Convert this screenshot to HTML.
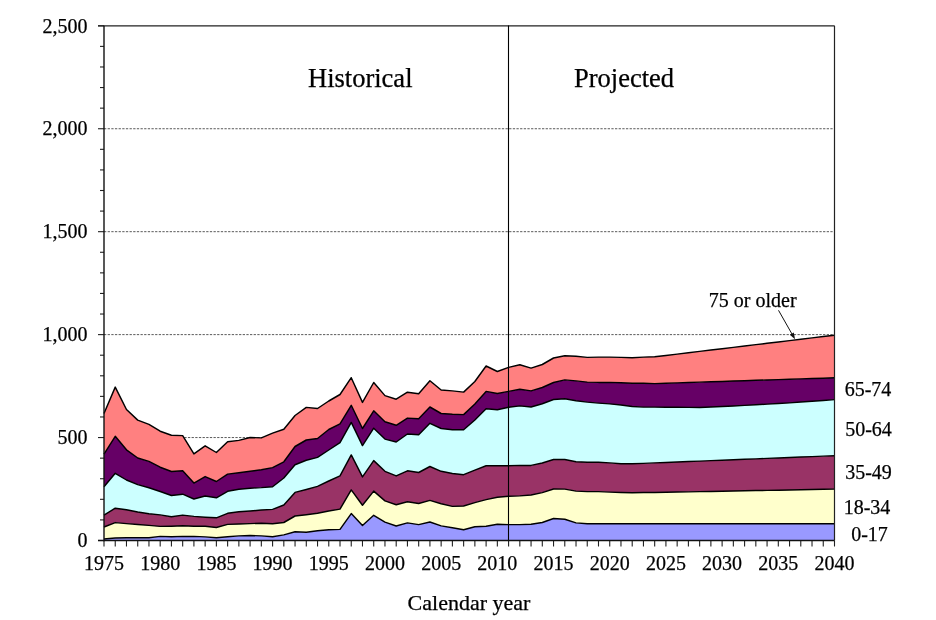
<!DOCTYPE html>
<html><head><meta charset="utf-8"><style>
html,body{margin:0;padding:0;background:#fff;}
body{width:936px;height:620px;overflow:hidden;}
svg{display:block;will-change:transform;}
text{font-family:"Liberation Serif",serif;fill:#000;stroke:#000;stroke-width:0.25px;}
</style></head><body>
<svg width="936" height="620" viewBox="0 0 936 620">
<rect width="936" height="620" fill="#fff"/>
<g stroke="#5a5a5a" stroke-width="1" stroke-dasharray="2.3 1.35">
<line x1="104" y1="437.56" x2="834.5" y2="437.56"/>
<line x1="104" y1="334.62" x2="834.5" y2="334.62"/>
<line x1="104" y1="231.68" x2="834.5" y2="231.68"/>
<line x1="104" y1="128.74" x2="834.5" y2="128.74"/>
</g>
<g stroke="none">
<polygon points="104,539 115.24,538 126.48,537.7 137.72,537.7 148.95,537.7 160.19,536.4 171.43,536.7 182.67,536.4 193.91,536.4 205.15,536.9 216.38,537.7 227.62,536.8 238.86,535.9 250.1,535.5 261.34,535.9 272.58,536.8 283.82,534.9 295.05,531.7 306.29,532.3 317.53,530.8 328.77,529.7 340.01,529.4 351.25,513.6 362.48,525.5 373.72,515.3 384.96,522.1 396.2,526 407.44,522.9 418.68,524.6 429.92,522 441.15,525.9 452.39,527.7 463.63,529.7 474.87,526.7 486.11,526.3 497.35,524.3 508.58,524.6 519.82,524.6 531.06,524.3 542.3,522.5 553.54,518.5 564.78,519.2 576.02,522.9 587.25,523.8 598.49,523.7 609.73,523.7 620.97,523.7 632.21,523.7 643.45,523.7 654.68,523.7 665.92,523.7 677.16,523.7 688.4,523.7 699.64,523.7 710.88,523.7 722.12,523.7 733.35,523.7 744.59,523.7 755.83,523.7 767.07,523.7 778.31,523.7 789.55,523.7 800.78,523.7 812.02,523.7 823.26,523.7 834.5,523.7 834.5,540.5 823.26,540.5 812.02,540.5 800.78,540.5 789.55,540.5 778.31,540.5 767.07,540.5 755.83,540.5 744.59,540.5 733.35,540.5 722.12,540.5 710.88,540.5 699.64,540.5 688.4,540.5 677.16,540.5 665.92,540.5 654.68,540.5 643.45,540.5 632.21,540.5 620.97,540.5 609.73,540.5 598.49,540.5 587.25,540.5 576.02,540.5 564.78,540.5 553.54,540.5 542.3,540.5 531.06,540.5 519.82,540.5 508.58,540.5 497.35,540.5 486.11,540.5 474.87,540.5 463.63,540.5 452.39,540.5 441.15,540.5 429.92,540.5 418.68,540.5 407.44,540.5 396.2,540.5 384.96,540.5 373.72,540.5 362.48,540.5 351.25,540.5 340.01,540.5 328.77,540.5 317.53,540.5 306.29,540.5 295.05,540.5 283.82,540.5 272.58,540.5 261.34,540.5 250.1,540.5 238.86,540.5 227.62,540.5 216.38,540.5 205.15,540.5 193.91,540.5 182.67,540.5 171.43,540.5 160.19,540.5 148.95,540.5 137.72,540.5 126.48,540.5 115.24,540.5 104,540.5" fill="#9999FF"/>
<polygon points="104,527 115.24,522.6 126.48,523.6 137.72,524.5 148.95,525.4 160.19,526.4 171.43,526.2 182.67,525.8 193.91,526.2 205.15,526.2 216.38,527.5 227.62,524.4 238.86,524 250.1,523.6 261.34,523.2 272.58,523.8 283.82,522.5 295.05,516 306.29,514.7 317.53,513.2 328.77,511 340.01,509.1 351.25,489.9 362.48,505.2 373.72,491.1 384.96,500.9 396.2,504.7 407.44,501.8 418.68,503.5 429.92,500.4 441.15,503.8 452.39,506.4 463.63,506 474.87,502.6 486.11,499.6 497.35,497.2 508.58,496.2 519.82,495.9 531.06,495 542.3,492.6 553.54,489 564.78,489.1 576.02,491.1 587.25,491.6 598.49,491.6 609.73,492.1 620.97,492.5 632.21,492.8 643.45,492.5 654.68,492.5 665.92,492.29 677.16,492.07 688.4,491.86 699.64,491.65 710.88,491.44 722.12,491.23 733.35,491.01 744.59,490.8 755.83,490.59 767.07,490.38 778.31,490.16 789.55,489.95 800.78,489.74 812.02,489.53 823.26,489.31 834.5,489.1 834.5,523.7 823.26,523.7 812.02,523.7 800.78,523.7 789.55,523.7 778.31,523.7 767.07,523.7 755.83,523.7 744.59,523.7 733.35,523.7 722.12,523.7 710.88,523.7 699.64,523.7 688.4,523.7 677.16,523.7 665.92,523.7 654.68,523.7 643.45,523.7 632.21,523.7 620.97,523.7 609.73,523.7 598.49,523.7 587.25,523.8 576.02,522.9 564.78,519.2 553.54,518.5 542.3,522.5 531.06,524.3 519.82,524.6 508.58,524.6 497.35,524.3 486.11,526.3 474.87,526.7 463.63,529.7 452.39,527.7 441.15,525.9 429.92,522 418.68,524.6 407.44,522.9 396.2,526 384.96,522.1 373.72,515.3 362.48,525.5 351.25,513.6 340.01,529.4 328.77,529.7 317.53,530.8 306.29,532.3 295.05,531.7 283.82,534.9 272.58,536.8 261.34,535.9 250.1,535.5 238.86,535.9 227.62,536.8 216.38,537.7 205.15,536.9 193.91,536.4 182.67,536.4 171.43,536.7 160.19,536.4 148.95,537.7 137.72,537.7 126.48,537.7 115.24,538 104,539" fill="#FFFFCC"/>
<polygon points="104,515.1 115.24,508.2 126.48,509.7 137.72,512 148.95,513.8 160.19,514.9 171.43,516.8 182.67,515.1 193.91,516.4 205.15,517.2 216.38,517.8 227.62,513.3 238.86,511.8 250.1,511 261.34,510 272.58,509.4 283.82,505 295.05,492.4 306.29,489.5 317.53,486.4 328.77,481 340.01,475.9 351.25,454.9 362.48,476.9 373.72,460.6 384.96,471.3 396.2,475.9 407.44,470.8 418.68,472.5 429.92,466.5 441.15,471.3 452.39,473.5 463.63,474.7 474.87,470.1 486.11,465.7 497.35,465.7 508.58,465.7 519.82,465.4 531.06,465.4 542.3,463 553.54,459.5 564.78,459.5 576.02,461.7 587.25,462.3 598.49,462.3 609.73,462.9 620.97,463.7 632.21,463.7 643.45,463.4 654.68,462.9 665.92,462.45 677.16,462 688.4,461.55 699.64,461.1 710.88,460.65 722.12,460.2 733.35,459.75 744.59,459.3 755.83,458.85 767.07,458.4 778.31,457.95 789.55,457.5 800.78,457.05 812.02,456.6 823.26,456.15 834.5,455.7 834.5,489.1 823.26,489.31 812.02,489.53 800.78,489.74 789.55,489.95 778.31,490.16 767.07,490.38 755.83,490.59 744.59,490.8 733.35,491.01 722.12,491.23 710.88,491.44 699.64,491.65 688.4,491.86 677.16,492.07 665.92,492.29 654.68,492.5 643.45,492.5 632.21,492.8 620.97,492.5 609.73,492.1 598.49,491.6 587.25,491.6 576.02,491.1 564.78,489.1 553.54,489 542.3,492.6 531.06,495 519.82,495.9 508.58,496.2 497.35,497.2 486.11,499.6 474.87,502.6 463.63,506 452.39,506.4 441.15,503.8 429.92,500.4 418.68,503.5 407.44,501.8 396.2,504.7 384.96,500.9 373.72,491.1 362.48,505.2 351.25,489.9 340.01,509.1 328.77,511 317.53,513.2 306.29,514.7 295.05,516 283.82,522.5 272.58,523.8 261.34,523.2 250.1,523.6 238.86,524 227.62,524.4 216.38,527.5 205.15,526.2 193.91,526.2 182.67,525.8 171.43,526.2 160.19,526.4 148.95,525.4 137.72,524.5 126.48,523.6 115.24,522.6 104,527" fill="#993366"/>
<polygon points="104,486.8 115.24,473.3 126.48,480 137.72,484.6 148.95,487.7 160.19,491.5 171.43,495.5 182.67,494.2 193.91,499 205.15,496 216.38,497.8 227.62,491.3 238.86,489.3 250.1,488.2 261.34,487.6 272.58,486.7 283.82,478 295.05,464.7 306.29,460.3 317.53,457.4 328.77,450 340.01,442.7 351.25,422.4 362.48,445.6 373.72,428.2 384.96,439.1 396.2,442 407.44,434 418.68,434.7 429.92,423.3 441.15,428.5 452.39,429.8 463.63,429.8 474.87,420 486.11,408.8 497.35,409.8 508.58,407.3 519.82,405.9 531.06,407 542.3,403.8 553.54,399.5 564.78,398.8 576.02,400.7 587.25,402.1 598.49,403.1 609.73,403.9 620.97,405 632.21,406.5 643.45,407.1 654.68,407.1 665.92,407.2 677.16,407.3 688.4,407.4 699.64,407.5 710.88,406.98 722.12,406.45 733.35,405.92 744.59,405.4 755.83,404.77 767.07,404.15 778.31,403.52 789.55,402.9 800.78,402.07 812.02,401.25 823.26,400.43 834.5,399.6 834.5,455.7 823.26,456.15 812.02,456.6 800.78,457.05 789.55,457.5 778.31,457.95 767.07,458.4 755.83,458.85 744.59,459.3 733.35,459.75 722.12,460.2 710.88,460.65 699.64,461.1 688.4,461.55 677.16,462 665.92,462.45 654.68,462.9 643.45,463.4 632.21,463.7 620.97,463.7 609.73,462.9 598.49,462.3 587.25,462.3 576.02,461.7 564.78,459.5 553.54,459.5 542.3,463 531.06,465.4 519.82,465.4 508.58,465.7 497.35,465.7 486.11,465.7 474.87,470.1 463.63,474.7 452.39,473.5 441.15,471.3 429.92,466.5 418.68,472.5 407.44,470.8 396.2,475.9 384.96,471.3 373.72,460.6 362.48,476.9 351.25,454.9 340.01,475.9 328.77,481 317.53,486.4 306.29,489.5 295.05,492.4 283.82,505 272.58,509.4 261.34,510 250.1,511 238.86,511.8 227.62,513.3 216.38,517.8 205.15,517.2 193.91,516.4 182.67,515.1 171.43,516.8 160.19,514.9 148.95,513.8 137.72,512 126.48,509.7 115.24,508.2 104,515.1" fill="#CCFFFF"/>
<polygon points="104,454.1 115.24,436.3 126.48,449.8 137.72,458 148.95,461.4 160.19,467.2 171.43,471.5 182.67,470.8 193.91,483.1 205.15,476.6 216.38,481.5 227.62,474.1 238.86,472.7 250.1,471.2 261.34,469.8 272.58,467.6 283.82,461.8 295.05,446.5 306.29,440 317.53,438.5 328.77,429.5 340.01,423.9 351.25,405.3 362.48,428.5 373.72,410.8 384.96,421.7 396.2,425.3 407.44,418.1 418.68,418.8 429.92,407 441.15,413.5 452.39,414.3 463.63,414.6 474.87,404 486.11,391.4 497.35,393.5 508.58,391.4 519.82,389.2 531.06,390.9 542.3,387.5 553.54,382.5 564.78,379.9 576.02,380.9 587.25,382.1 598.49,382.4 609.73,382.4 620.97,382.8 632.21,383.3 643.45,383.3 654.68,383.6 665.92,383.24 677.16,382.88 688.4,382.51 699.64,382.15 710.88,381.79 722.12,381.43 733.35,381.06 744.59,380.7 755.83,380.34 767.07,379.98 778.31,379.61 789.55,379.25 800.78,378.89 812.02,378.53 823.26,378.16 834.5,377.8 834.5,399.6 823.26,400.43 812.02,401.25 800.78,402.07 789.55,402.9 778.31,403.52 767.07,404.15 755.83,404.77 744.59,405.4 733.35,405.92 722.12,406.45 710.88,406.98 699.64,407.5 688.4,407.4 677.16,407.3 665.92,407.2 654.68,407.1 643.45,407.1 632.21,406.5 620.97,405 609.73,403.9 598.49,403.1 587.25,402.1 576.02,400.7 564.78,398.8 553.54,399.5 542.3,403.8 531.06,407 519.82,405.9 508.58,407.3 497.35,409.8 486.11,408.8 474.87,420 463.63,429.8 452.39,429.8 441.15,428.5 429.92,423.3 418.68,434.7 407.44,434 396.2,442 384.96,439.1 373.72,428.2 362.48,445.6 351.25,422.4 340.01,442.7 328.77,450 317.53,457.4 306.29,460.3 295.05,464.7 283.82,478 272.58,486.7 261.34,487.6 250.1,488.2 238.86,489.3 227.62,491.3 216.38,497.8 205.15,496 193.91,499 182.67,494.2 171.43,495.5 160.19,491.5 148.95,487.7 137.72,484.6 126.48,480 115.24,473.3 104,486.8" fill="#660066"/>
<polygon points="104,413.5 115.24,387.1 126.48,409.5 137.72,420.1 148.95,424.4 160.19,431.2 171.43,435.3 182.67,435.6 193.91,453.9 205.15,445.8 216.38,452.5 227.62,441.8 238.86,440.4 250.1,437.5 261.34,437.9 272.58,433.1 283.82,429.2 295.05,415.5 306.29,407.4 317.53,408.5 328.77,401 340.01,394.5 351.25,377.7 362.48,402.4 373.72,382.5 384.96,395.6 396.2,399.2 407.44,392.2 418.68,393.7 429.92,380.8 441.15,390 452.39,390.9 463.63,392.1 474.87,381.5 486.11,366 497.35,371.5 508.58,367.4 519.82,364.8 531.06,368.1 542.3,364.5 553.54,358 564.78,355.7 576.02,356.3 587.25,357.4 598.49,357.1 609.73,357.1 620.97,357.4 632.21,357.7 643.45,357.1 654.68,356.8 665.92,355.45 677.16,354.1 688.4,352.75 699.64,351.4 710.88,350.05 722.12,348.7 733.35,347.35 744.59,346 755.83,344.65 767.07,343.3 778.31,341.95 789.55,340.6 800.78,339.25 812.02,337.9 823.26,336.55 834.5,335.2 834.5,377.8 823.26,378.16 812.02,378.53 800.78,378.89 789.55,379.25 778.31,379.61 767.07,379.98 755.83,380.34 744.59,380.7 733.35,381.06 722.12,381.43 710.88,381.79 699.64,382.15 688.4,382.51 677.16,382.88 665.92,383.24 654.68,383.6 643.45,383.3 632.21,383.3 620.97,382.8 609.73,382.4 598.49,382.4 587.25,382.1 576.02,380.9 564.78,379.9 553.54,382.5 542.3,387.5 531.06,390.9 519.82,389.2 508.58,391.4 497.35,393.5 486.11,391.4 474.87,404 463.63,414.6 452.39,414.3 441.15,413.5 429.92,407 418.68,418.8 407.44,418.1 396.2,425.3 384.96,421.7 373.72,410.8 362.48,428.5 351.25,405.3 340.01,423.9 328.77,429.5 317.53,438.5 306.29,440 295.05,446.5 283.82,461.8 272.58,467.6 261.34,469.8 250.1,471.2 238.86,472.7 227.62,474.1 216.38,481.5 205.15,476.6 193.91,483.1 182.67,470.8 171.43,471.5 160.19,467.2 148.95,461.4 137.72,458 126.48,449.8 115.24,436.3 104,454.1" fill="#FF8080"/>
</g>
<g fill="none" stroke="#000" stroke-width="1.45" stroke-linejoin="round">
<polyline points="104,539 115.24,538 126.48,537.7 137.72,537.7 148.95,537.7 160.19,536.4 171.43,536.7 182.67,536.4 193.91,536.4 205.15,536.9 216.38,537.7 227.62,536.8 238.86,535.9 250.1,535.5 261.34,535.9 272.58,536.8 283.82,534.9 295.05,531.7 306.29,532.3 317.53,530.8 328.77,529.7 340.01,529.4 351.25,513.6 362.48,525.5 373.72,515.3 384.96,522.1 396.2,526 407.44,522.9 418.68,524.6 429.92,522 441.15,525.9 452.39,527.7 463.63,529.7 474.87,526.7 486.11,526.3 497.35,524.3 508.58,524.6 519.82,524.6 531.06,524.3 542.3,522.5 553.54,518.5 564.78,519.2 576.02,522.9 587.25,523.8 598.49,523.7 609.73,523.7 620.97,523.7 632.21,523.7 643.45,523.7 654.68,523.7 665.92,523.7 677.16,523.7 688.4,523.7 699.64,523.7 710.88,523.7 722.12,523.7 733.35,523.7 744.59,523.7 755.83,523.7 767.07,523.7 778.31,523.7 789.55,523.7 800.78,523.7 812.02,523.7 823.26,523.7 834.5,523.7"/>
<polyline points="104,527 115.24,522.6 126.48,523.6 137.72,524.5 148.95,525.4 160.19,526.4 171.43,526.2 182.67,525.8 193.91,526.2 205.15,526.2 216.38,527.5 227.62,524.4 238.86,524 250.1,523.6 261.34,523.2 272.58,523.8 283.82,522.5 295.05,516 306.29,514.7 317.53,513.2 328.77,511 340.01,509.1 351.25,489.9 362.48,505.2 373.72,491.1 384.96,500.9 396.2,504.7 407.44,501.8 418.68,503.5 429.92,500.4 441.15,503.8 452.39,506.4 463.63,506 474.87,502.6 486.11,499.6 497.35,497.2 508.58,496.2 519.82,495.9 531.06,495 542.3,492.6 553.54,489 564.78,489.1 576.02,491.1 587.25,491.6 598.49,491.6 609.73,492.1 620.97,492.5 632.21,492.8 643.45,492.5 654.68,492.5 665.92,492.29 677.16,492.07 688.4,491.86 699.64,491.65 710.88,491.44 722.12,491.23 733.35,491.01 744.59,490.8 755.83,490.59 767.07,490.38 778.31,490.16 789.55,489.95 800.78,489.74 812.02,489.53 823.26,489.31 834.5,489.1"/>
<polyline points="104,515.1 115.24,508.2 126.48,509.7 137.72,512 148.95,513.8 160.19,514.9 171.43,516.8 182.67,515.1 193.91,516.4 205.15,517.2 216.38,517.8 227.62,513.3 238.86,511.8 250.1,511 261.34,510 272.58,509.4 283.82,505 295.05,492.4 306.29,489.5 317.53,486.4 328.77,481 340.01,475.9 351.25,454.9 362.48,476.9 373.72,460.6 384.96,471.3 396.2,475.9 407.44,470.8 418.68,472.5 429.92,466.5 441.15,471.3 452.39,473.5 463.63,474.7 474.87,470.1 486.11,465.7 497.35,465.7 508.58,465.7 519.82,465.4 531.06,465.4 542.3,463 553.54,459.5 564.78,459.5 576.02,461.7 587.25,462.3 598.49,462.3 609.73,462.9 620.97,463.7 632.21,463.7 643.45,463.4 654.68,462.9 665.92,462.45 677.16,462 688.4,461.55 699.64,461.1 710.88,460.65 722.12,460.2 733.35,459.75 744.59,459.3 755.83,458.85 767.07,458.4 778.31,457.95 789.55,457.5 800.78,457.05 812.02,456.6 823.26,456.15 834.5,455.7"/>
<polyline points="104,486.8 115.24,473.3 126.48,480 137.72,484.6 148.95,487.7 160.19,491.5 171.43,495.5 182.67,494.2 193.91,499 205.15,496 216.38,497.8 227.62,491.3 238.86,489.3 250.1,488.2 261.34,487.6 272.58,486.7 283.82,478 295.05,464.7 306.29,460.3 317.53,457.4 328.77,450 340.01,442.7 351.25,422.4 362.48,445.6 373.72,428.2 384.96,439.1 396.2,442 407.44,434 418.68,434.7 429.92,423.3 441.15,428.5 452.39,429.8 463.63,429.8 474.87,420 486.11,408.8 497.35,409.8 508.58,407.3 519.82,405.9 531.06,407 542.3,403.8 553.54,399.5 564.78,398.8 576.02,400.7 587.25,402.1 598.49,403.1 609.73,403.9 620.97,405 632.21,406.5 643.45,407.1 654.68,407.1 665.92,407.2 677.16,407.3 688.4,407.4 699.64,407.5 710.88,406.98 722.12,406.45 733.35,405.92 744.59,405.4 755.83,404.77 767.07,404.15 778.31,403.52 789.55,402.9 800.78,402.07 812.02,401.25 823.26,400.43 834.5,399.6"/>
<polyline points="104,454.1 115.24,436.3 126.48,449.8 137.72,458 148.95,461.4 160.19,467.2 171.43,471.5 182.67,470.8 193.91,483.1 205.15,476.6 216.38,481.5 227.62,474.1 238.86,472.7 250.1,471.2 261.34,469.8 272.58,467.6 283.82,461.8 295.05,446.5 306.29,440 317.53,438.5 328.77,429.5 340.01,423.9 351.25,405.3 362.48,428.5 373.72,410.8 384.96,421.7 396.2,425.3 407.44,418.1 418.68,418.8 429.92,407 441.15,413.5 452.39,414.3 463.63,414.6 474.87,404 486.11,391.4 497.35,393.5 508.58,391.4 519.82,389.2 531.06,390.9 542.3,387.5 553.54,382.5 564.78,379.9 576.02,380.9 587.25,382.1 598.49,382.4 609.73,382.4 620.97,382.8 632.21,383.3 643.45,383.3 654.68,383.6 665.92,383.24 677.16,382.88 688.4,382.51 699.64,382.15 710.88,381.79 722.12,381.43 733.35,381.06 744.59,380.7 755.83,380.34 767.07,379.98 778.31,379.61 789.55,379.25 800.78,378.89 812.02,378.53 823.26,378.16 834.5,377.8"/>
<polyline points="104,413.5 115.24,387.1 126.48,409.5 137.72,420.1 148.95,424.4 160.19,431.2 171.43,435.3 182.67,435.6 193.91,453.9 205.15,445.8 216.38,452.5 227.62,441.8 238.86,440.4 250.1,437.5 261.34,437.9 272.58,433.1 283.82,429.2 295.05,415.5 306.29,407.4 317.53,408.5 328.77,401 340.01,394.5 351.25,377.7 362.48,402.4 373.72,382.5 384.96,395.6 396.2,399.2 407.44,392.2 418.68,393.7 429.92,380.8 441.15,390 452.39,390.9 463.63,392.1 474.87,381.5 486.11,366 497.35,371.5 508.58,367.4 519.82,364.8 531.06,368.1 542.3,364.5 553.54,358 564.78,355.7 576.02,356.3 587.25,357.4 598.49,357.1 609.73,357.1 620.97,357.4 632.21,357.7 643.45,357.1 654.68,356.8 665.92,355.45 677.16,354.1 688.4,352.75 699.64,351.4 710.88,350.05 722.12,348.7 733.35,347.35 744.59,346 755.83,344.65 767.07,343.3 778.31,341.95 789.55,340.6 800.78,339.25 812.02,337.9 823.26,336.55 834.5,335.2"/>
</g>
<g stroke="#222" stroke-width="1.2" fill="none">
<line x1="834.5" y1="25.8" x2="834.5" y2="540.5"/>
<line x1="98" y1="25.8" x2="834.5" y2="25.8"/>
</g>
<line x1="508.5" y1="25.5" x2="508.5" y2="540.5" stroke="#000" stroke-width="1.1"/>
<g stroke="#222" stroke-width="1.1">
<line x1="98" y1="540.5" x2="104" y2="540.5"/>
<line x1="100" y1="519.91" x2="104" y2="519.91"/>
<line x1="100" y1="499.32" x2="104" y2="499.32"/>
<line x1="100" y1="478.74" x2="104" y2="478.74"/>
<line x1="100" y1="458.15" x2="104" y2="458.15"/>
<line x1="98" y1="437.56" x2="104" y2="437.56"/>
<line x1="100" y1="416.97" x2="104" y2="416.97"/>
<line x1="100" y1="396.38" x2="104" y2="396.38"/>
<line x1="100" y1="375.8" x2="104" y2="375.8"/>
<line x1="100" y1="355.21" x2="104" y2="355.21"/>
<line x1="98" y1="334.62" x2="104" y2="334.62"/>
<line x1="100" y1="314.03" x2="104" y2="314.03"/>
<line x1="100" y1="293.44" x2="104" y2="293.44"/>
<line x1="100" y1="272.86" x2="104" y2="272.86"/>
<line x1="100" y1="252.27" x2="104" y2="252.27"/>
<line x1="98" y1="231.68" x2="104" y2="231.68"/>
<line x1="100" y1="211.09" x2="104" y2="211.09"/>
<line x1="100" y1="190.5" x2="104" y2="190.5"/>
<line x1="100" y1="169.92" x2="104" y2="169.92"/>
<line x1="100" y1="149.33" x2="104" y2="149.33"/>
<line x1="98" y1="128.74" x2="104" y2="128.74"/>
<line x1="100" y1="108.15" x2="104" y2="108.15"/>
<line x1="100" y1="87.56" x2="104" y2="87.56"/>
<line x1="100" y1="66.98" x2="104" y2="66.98"/>
<line x1="100" y1="46.39" x2="104" y2="46.39"/>
<line x1="98" y1="25.8" x2="104" y2="25.8"/>
<line x1="104" y1="540.5" x2="104" y2="546.5"/>
<line x1="115.24" y1="540.5" x2="115.24" y2="546.5"/>
<line x1="126.48" y1="540.5" x2="126.48" y2="546.5"/>
<line x1="137.72" y1="540.5" x2="137.72" y2="546.5"/>
<line x1="148.95" y1="540.5" x2="148.95" y2="546.5"/>
<line x1="160.19" y1="540.5" x2="160.19" y2="546.5"/>
<line x1="171.43" y1="540.5" x2="171.43" y2="546.5"/>
<line x1="182.67" y1="540.5" x2="182.67" y2="546.5"/>
<line x1="193.91" y1="540.5" x2="193.91" y2="546.5"/>
<line x1="205.15" y1="540.5" x2="205.15" y2="546.5"/>
<line x1="216.38" y1="540.5" x2="216.38" y2="546.5"/>
<line x1="227.62" y1="540.5" x2="227.62" y2="546.5"/>
<line x1="238.86" y1="540.5" x2="238.86" y2="546.5"/>
<line x1="250.1" y1="540.5" x2="250.1" y2="546.5"/>
<line x1="261.34" y1="540.5" x2="261.34" y2="546.5"/>
<line x1="272.58" y1="540.5" x2="272.58" y2="546.5"/>
<line x1="283.82" y1="540.5" x2="283.82" y2="546.5"/>
<line x1="295.05" y1="540.5" x2="295.05" y2="546.5"/>
<line x1="306.29" y1="540.5" x2="306.29" y2="546.5"/>
<line x1="317.53" y1="540.5" x2="317.53" y2="546.5"/>
<line x1="328.77" y1="540.5" x2="328.77" y2="546.5"/>
<line x1="340.01" y1="540.5" x2="340.01" y2="546.5"/>
<line x1="351.25" y1="540.5" x2="351.25" y2="546.5"/>
<line x1="362.48" y1="540.5" x2="362.48" y2="546.5"/>
<line x1="373.72" y1="540.5" x2="373.72" y2="546.5"/>
<line x1="384.96" y1="540.5" x2="384.96" y2="546.5"/>
<line x1="396.2" y1="540.5" x2="396.2" y2="546.5"/>
<line x1="407.44" y1="540.5" x2="407.44" y2="546.5"/>
<line x1="418.68" y1="540.5" x2="418.68" y2="546.5"/>
<line x1="429.92" y1="540.5" x2="429.92" y2="546.5"/>
<line x1="441.15" y1="540.5" x2="441.15" y2="546.5"/>
<line x1="452.39" y1="540.5" x2="452.39" y2="546.5"/>
<line x1="463.63" y1="540.5" x2="463.63" y2="546.5"/>
<line x1="474.87" y1="540.5" x2="474.87" y2="546.5"/>
<line x1="486.11" y1="540.5" x2="486.11" y2="546.5"/>
<line x1="497.35" y1="540.5" x2="497.35" y2="546.5"/>
<line x1="508.58" y1="540.5" x2="508.58" y2="546.5"/>
<line x1="519.82" y1="540.5" x2="519.82" y2="546.5"/>
<line x1="531.06" y1="540.5" x2="531.06" y2="546.5"/>
<line x1="542.3" y1="540.5" x2="542.3" y2="546.5"/>
<line x1="553.54" y1="540.5" x2="553.54" y2="546.5"/>
<line x1="564.78" y1="540.5" x2="564.78" y2="546.5"/>
<line x1="576.02" y1="540.5" x2="576.02" y2="546.5"/>
<line x1="587.25" y1="540.5" x2="587.25" y2="546.5"/>
<line x1="598.49" y1="540.5" x2="598.49" y2="546.5"/>
<line x1="609.73" y1="540.5" x2="609.73" y2="546.5"/>
<line x1="620.97" y1="540.5" x2="620.97" y2="546.5"/>
<line x1="632.21" y1="540.5" x2="632.21" y2="546.5"/>
<line x1="643.45" y1="540.5" x2="643.45" y2="546.5"/>
<line x1="654.68" y1="540.5" x2="654.68" y2="546.5"/>
<line x1="665.92" y1="540.5" x2="665.92" y2="546.5"/>
<line x1="677.16" y1="540.5" x2="677.16" y2="546.5"/>
<line x1="688.4" y1="540.5" x2="688.4" y2="546.5"/>
<line x1="699.64" y1="540.5" x2="699.64" y2="546.5"/>
<line x1="710.88" y1="540.5" x2="710.88" y2="546.5"/>
<line x1="722.12" y1="540.5" x2="722.12" y2="546.5"/>
<line x1="733.35" y1="540.5" x2="733.35" y2="546.5"/>
<line x1="744.59" y1="540.5" x2="744.59" y2="546.5"/>
<line x1="755.83" y1="540.5" x2="755.83" y2="546.5"/>
<line x1="767.07" y1="540.5" x2="767.07" y2="546.5"/>
<line x1="778.31" y1="540.5" x2="778.31" y2="546.5"/>
<line x1="789.55" y1="540.5" x2="789.55" y2="546.5"/>
<line x1="800.78" y1="540.5" x2="800.78" y2="546.5"/>
<line x1="812.02" y1="540.5" x2="812.02" y2="546.5"/>
<line x1="823.26" y1="540.5" x2="823.26" y2="546.5"/>
<line x1="834.5" y1="540.5" x2="834.5" y2="546.5"/>
</g>
<g stroke="#111" stroke-width="1.4">
<line x1="104" y1="25.8" x2="104" y2="541.2"/>
<line x1="98" y1="540.5" x2="834.5" y2="540.5"/>
</g>
<g font-size="20" text-anchor="end">
<text x="87.6" y="547.2">0</text>
<text x="87.6" y="444.26">500</text>
<text x="87.6" y="341.32">1,000</text>
<text x="87.6" y="238.38">1,500</text>
<text x="87.6" y="135.44">2,000</text>
<text x="87.6" y="32.5">2,500</text>
</g>
<g font-size="20" text-anchor="middle">
<text x="104" y="570">1975</text>
<text x="160.19" y="570">1980</text>
<text x="216.38" y="570">1985</text>
<text x="272.58" y="570">1990</text>
<text x="328.77" y="570">1995</text>
<text x="384.96" y="570">2000</text>
<text x="441.15" y="570">2005</text>
<text x="497.35" y="570">2010</text>
<text x="553.54" y="570">2015</text>
<text x="609.73" y="570">2020</text>
<text x="665.92" y="570">2025</text>
<text x="722.12" y="570">2030</text>
<text x="778.31" y="570">2035</text>
<text x="834.5" y="570">2040</text>
</g>
<g font-size="26.5">
<text x="308" y="87">Historical</text>
<text x="574" y="87">Projected</text>
</g>
<text x="469" y="610" font-size="22" text-anchor="middle">Calendar year</text>
<g font-size="20" text-anchor="middle">
<text x="868" y="396">65-74</text>
<text x="868.5" y="436">50-64</text>
<text x="868.5" y="479">35-49</text>
<text x="867" y="513.5">18-34</text>
<text x="869.5" y="541.3">0-17</text>
</g>
<text x="708.8" y="307" font-size="20">75 or older</text>
<g stroke="#111" stroke-width="1" fill="#111">
<line x1="778.5" y1="310.3" x2="793" y2="335.8"/>
<polygon points="795,339.3 789.8,334.8 793.8,332.6" stroke="none"/>
</g>
</svg>
</body></html>
